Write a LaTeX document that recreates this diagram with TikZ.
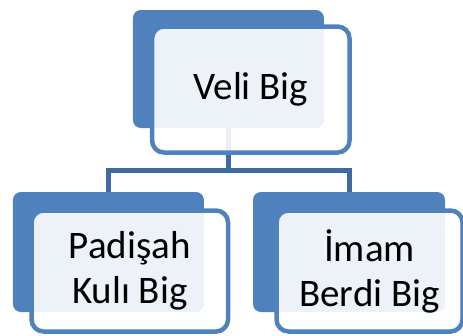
\documentclass[tikz,border=0pt]{standalone}
\usepackage{fontspec}
\setmainfont{Carlito}
\usetikzlibrary{positioning}
\definecolor{accentblue}{HTML}{4F81BD}
\definecolor{linkblue}{HTML}{3F6B9E}

\tikzset{
  backbox/.style={fill=accentblue,rounded corners=8pt,inner sep=0pt},
  frontbox/.style={draw=accentblue,line width=4.5pt,fill=white,fill opacity=0.9,
                   text opacity=1,rounded corners=12pt,inner sep=0pt,align=center,
                   font=\fontsize{39}{45}\selectfont},
  link/.style={draw=linkblue,line width=5pt}
}

\begin{document}
\begin{tikzpicture}[x=1pt,y=-1pt]
  \useasboundingbox (0,0) rectangle (463,335);
  \clip (0,0) rectangle (463,335);

  % back plates
  \node[backbox,minimum width=191pt,minimum height=118pt] (veliback) at (228.4,69) {};
  \node[backbox,minimum width=191pt,minimum height=120pt] (padback) at (108.4,252) {};
  \node[backbox,minimum width=192pt,minimum height=120pt] (imamback) at (349,252) {};

  % tree links
  \coordinate (bus) at (228.4,171);
  \draw[link] (veliback.south) -- (bus);
  \draw[link] (padback.north) -- ++(0,-21) -| (imamback.north);

  % front boxes
  \node[frontbox,minimum width=197.5pt,minimum height=126pt] (veli) at (250.8,89.5) {Veli Big};
  \node[frontbox,minimum width=196.5pt,minimum height=121pt] (padisah) at (129.8,271) {Padişah\\Kulı Big};
  \node[frontbox,minimum width=186pt,minimum height=121pt] (imam) at (369.5,271) {İmam\\Berdi Big};
\end{tikzpicture}
\end{document}
